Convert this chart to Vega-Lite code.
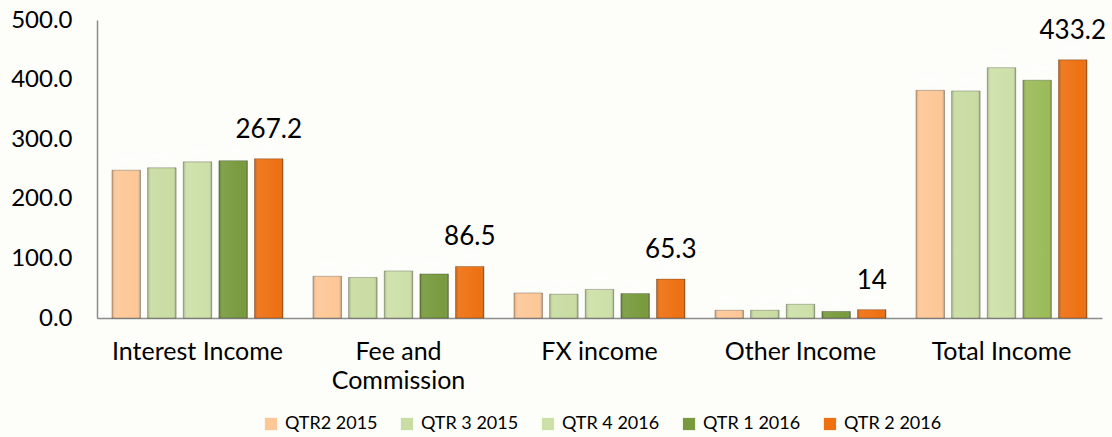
{
  "$schema": "https://vega.github.io/schema/vega-lite/v6.json",
  "width": 1005,
  "height": 298,
  "autosize": {"type": "none"},
  "padding": {"left": 97, "top": 20, "right": 10, "bottom": 119},
  "background": "#FDFDF9",
  "config": {
    "font": "Lato",
    "view": {"stroke": null},
    "axis": {"grid": false}
  },
  "data": {
    "values": [
      {"category": "Interest Income", "quarter": "QTR2 2015", "value": 248},
      {"category": "Interest Income", "quarter": "QTR 3 2015", "value": 252},
      {"category": "Interest Income", "quarter": "QTR 4 2016", "value": 262},
      {"category": "Interest Income", "quarter": "QTR 1 2016", "value": 264},
      {"category": "Interest Income", "quarter": "QTR 2 2016", "value": 267.2},
      {"category": "Fee and Commission", "quarter": "QTR2 2015", "value": 70},
      {"category": "Fee and Commission", "quarter": "QTR 3 2015", "value": 68},
      {"category": "Fee and Commission", "quarter": "QTR 4 2016", "value": 79},
      {"category": "Fee and Commission", "quarter": "QTR 1 2016", "value": 74},
      {"category": "Fee and Commission", "quarter": "QTR 2 2016", "value": 86.5},
      {"category": "FX income", "quarter": "QTR2 2015", "value": 42},
      {"category": "FX income", "quarter": "QTR 3 2015", "value": 40},
      {"category": "FX income", "quarter": "QTR 4 2016", "value": 48},
      {"category": "FX income", "quarter": "QTR 1 2016", "value": 41},
      {"category": "FX income", "quarter": "QTR 2 2016", "value": 65.3},
      {"category": "Other Income", "quarter": "QTR2 2015", "value": 13},
      {"category": "Other Income", "quarter": "QTR 3 2015", "value": 13},
      {"category": "Other Income", "quarter": "QTR 4 2016", "value": 23},
      {"category": "Other Income", "quarter": "QTR 1 2016", "value": 11},
      {"category": "Other Income", "quarter": "QTR 2 2016", "value": 14},
      {"category": "Total Income", "quarter": "QTR2 2015", "value": 382},
      {"category": "Total Income", "quarter": "QTR 3 2015", "value": 381},
      {"category": "Total Income", "quarter": "QTR 4 2016", "value": 420},
      {"category": "Total Income", "quarter": "QTR 1 2016", "value": 399},
      {"category": "Total Income", "quarter": "QTR 2 2016", "value": 433.2}
    ]
  },
  "encoding": {
    "x": {
      "field": "category",
      "type": "nominal",
      "sort": null,
      "title": null,
      "scale": {"paddingInner": 0, "paddingOuter": 0},
      "axis": {
        "labelAngle": 0,
        "labelFontSize": 25,
        "labelColor": "#000000",
        "labelPadding": 21,
        "labelLineHeight": 29,
        "labelExpr": "datum.label === 'Fee and Commission' ? ['Fee and', 'Commission'] : datum.label",
        "ticks": false,
        "domainColor": "#8c8c8c",
        "domainWidth": 1.5
      }
    },
    "xOffset": {
      "field": "quarter",
      "type": "nominal",
      "sort": ["QTR2 2015", "QTR 3 2015", "QTR 4 2016", "QTR 1 2016", "QTR 2 2016"],
      "scale": {"paddingInner": 0.2, "paddingOuter": 0.42}
    },
    "y": {
      "field": "value",
      "type": "quantitative",
      "title": null,
      "scale": {"domain": [0, 500], "nice": false},
      "axis": {
        "values": [0, 100, 200, 300, 400, 500],
        "format": ".1f",
        "labelFontSize": 24,
        "labelColor": "#000000",
        "labelPadding": 25,
        "ticks": false,
        "domainColor": "#8c8c8c",
        "domainWidth": 1.5
      }
    }
  },
  "layer": [
    {
      "mark": {"type": "bar"},
      "encoding": {
        "color": {
          "condition": {
            "test": "datum.category === 'Total Income' && datum.quarter === 'QTR 1 2016'",
            "value": "#9BBB59"
          },
          "field": "quarter",
          "type": "nominal",
          "sort": ["QTR2 2015", "QTR 3 2015", "QTR 4 2016", "QTR 1 2016", "QTR 2 2016"],
          "scale": {
            "domain": ["QTR2 2015", "QTR 3 2015", "QTR 4 2016", "QTR 1 2016", "QTR 2 2016"],
            "range": ["#FDC797", "#C9DCA2", "#CDE0A8", "#789A3D", "#EE7011"]
          },
          "legend": {
            "orient": "none",
            "direction": "horizontal",
            "legendX": 165,
            "legendY": 395,
            "title": null,
            "symbolType": "square",
            "symbolSize": 150,
            "symbolStrokeWidth": 0,
            "labelFontSize": 18,
            "labelColor": "#000000",
            "labelOffset": 5,
            "columnPadding": 20
          }
        }
      }
    },
    {
      "mark": {
        "type": "bar",
        "fill": {
          "gradient": "linear",
          "x1": 0, "y1": 0, "x2": 1, "y2": 0,
          "stops": [
            {"offset": 0, "color": "rgba(0,0,0,0.22)"},
            {"offset": 0.12, "color": "rgba(255,255,255,0.08)"},
            {"offset": 0.88, "color": "rgba(255,255,255,0.0)"},
            {"offset": 1, "color": "rgba(0,0,0,0.28)"}
          ]
        },
        "stroke": "#000000",
        "strokeOpacity": 0.3,
        "strokeWidth": 0.8
      },
      "encoding": {}
    },
    {
      "mark": {
        "type": "point",
        "shape": "M-0.9,-1L0.9,-1L0,-0.4Z",
        "size": 800,
        "filled": true,
        "fill": "#FFFFFF",
        "fillOpacity": 0.45,
        "strokeWidth": 0
      },
      "encoding": {}
    },
    {
      "transform": [{"filter": "datum.quarter === 'QTR 2 2016'"}],
      "mark": {"type": "text", "dy": -29, "fontSize": 26, "baseline": "middle", "color": "#000000"},
      "encoding": {
        "text": {"field": "value", "type": "quantitative", "format": "~f"}
      }
    }
  ]
}
